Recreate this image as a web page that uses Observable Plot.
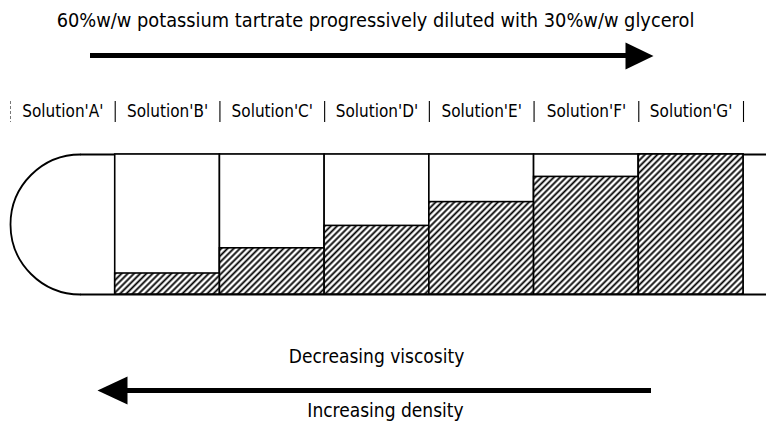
<!DOCTYPE html>
<html><head><meta charset="utf-8">
<script src="https://cdn.jsdelivr.net/npm/d3@7"></script>
<script src="https://cdn.jsdelivr.net/npm/@observablehq/plot@0.6"></script>
<style>
body{margin:0;background:#fff}
#chart svg{display:block}
</style>
</head><body><div id="chart"></div>
<script>
// ---- data ----
const solutions = ["A", "B", "C", "D", "E", "F", "G"];
const solutionLabels = ["Solution'A'", "Solution'B'", "Solution'C'", "Solution'D'", "Solution'E'", "Solution'F'", "Solution'G'"];
// fraction of the tube height filled by the hatched (denser) layer
const hatchedFraction = [0, 0.15, 0.33, 0.49, 0.66, 0.84, 1.0];
const titleText = "60%w/w potassium tartrate progressively diluted with 30%w/w glycerol";
const upperArrowText = "Decreasing viscosity";
const lowerArrowText = "Increasing density";

const rows = solutions.map((s, i) => ({solution: s, i, label: solutionLabels[i], level: hatchedFraction[i]}));

// ---- layout ----
const W = 766, H = 421;
const xr = [10, 743];
const u = (xr[1] - xr[0]) / solutions.length; // px per column
const px = v => (v - xr[0]) / u;               // pixel -> x units (for decorations)
const font = "'DejaVu Sans Condensed', 'DejaVu Sans', sans-serif";

const arcSymbol = {draw(ctx) { const r = 70; ctx.moveTo(0, r); ctx.arc(0, 0, r, Math.PI / 2, 3 * Math.PI / 2); }};
const headRight = {draw(ctx) { ctx.moveTo(-14, -13.5); ctx.lineTo(14, 0); ctx.lineTo(-14, 13.5); ctx.closePath(); }};
const headLeft  = {draw(ctx) { ctx.moveTo(15, -14); ctx.lineTo(-15, 0); ctx.lineTo(15, 14); ctx.closePath(); }};

const chart = Plot.plot({
  width: W, height: H, margin: 0,
  style: {fontFamily: font, fontSize: "17px", color: "black", background: "white"},
  x: {domain: [0, solutions.length], range: xr, axis: null},
  y: {domain: [0, 1], range: [294, 154], axis: null},
  marks: [
    // rounded end of the tube (solution A)
    Plot.dot([0], {x: d => d, y: () => 0.5, dx: 70, symbol: arcSymbol, fill: "none", stroke: "black", strokeWidth: 1.8}),
    // tube walls
    Plot.ruleY([0, 1], {x1: () => px(80), x2: () => px(W + 2), stroke: "black", strokeWidth: 2}),
    // columns B..G
    Plot.rect(rows.filter(d => d.i > 0), {x1: "i", x2: d => d.i + 1, y1: () => 0, y2: () => 1, fill: "white", stroke: "black", strokeWidth: 1.6}),
    // hatched layer
    Plot.rect(rows.filter(d => d.level > 0), {x1: "i", x2: d => d.i + 1, y1: () => 0, y2: "level", fill: "url(#hatch)", stroke: "black", strokeWidth: 1.6}),
    // label separators
    Plot.ruleX(d3.range(1, solutions.length + 1), {insetTop: 101, insetBottom: H - 122, stroke: "black", strokeWidth: 1.1}),
    Plot.ruleX([0], {insetTop: 101, insetBottom: H - 122, stroke: "#555", strokeWidth: 0.8, strokeDasharray: "3,2"}),
    // labels
    Plot.text(rows, {x: d => d.i + 0.5, frameAnchor: "top", dy: 111, lineAnchor: "middle", text: "label", fontSize: 17}),
    // title + top arrow
    Plot.text([titleText], {frameAnchor: "top", dy: 20, dx: -8, lineAnchor: "middle", text: d => d, fontSize: 19.8}),
    Plot.rect([0], {x1: () => px(90), x2: () => px(628), insetTop: 53, insetBottom: H - 58, fill: "black"}),
    Plot.dot([0], {x: () => px(639), frameAnchor: "top", dy: 55.5, symbol: headRight, fill: "black", stroke: "none"}),
    // bottom texts + arrow
    Plot.text([upperArrowText], {frameAnchor: "top", dy: 356, dx: -7, lineAnchor: "middle", text: d => d, fontSize: 19}),
    Plot.rect([0], {x1: () => px(124), x2: () => px(651), insetTop: 388, insetBottom: H - 393, fill: "black"}),
    Plot.dot([0], {x: () => px(112), frameAnchor: "top", dy: 390, symbol: headLeft, fill: "black", stroke: "none"}),
    Plot.text([lowerArrowText], {frameAnchor: "top", dy: 410, dx: 2, lineAnchor: "middle", text: d => d, fontSize: 19})
  ]
});

// hatch pattern definition
const defs = d3.select(chart).insert("defs", ":first-child");
const pat = defs.append("pattern").attr("id", "hatch").attr("patternUnits", "userSpaceOnUse")
  .attr("width", 4.4).attr("height", 10).attr("patternTransform", "rotate(45)");
pat.append("rect").attr("width", 4.4).attr("height", 10).attr("fill", "white");
pat.append("line").attr("x1", 2.2).attr("x2", 2.2).attr("y1", -1).attr("y2", 11).attr("stroke", "black").attr("stroke-width", 1.8);

document.getElementById("chart").append(chart);
</script>
</body></html>
